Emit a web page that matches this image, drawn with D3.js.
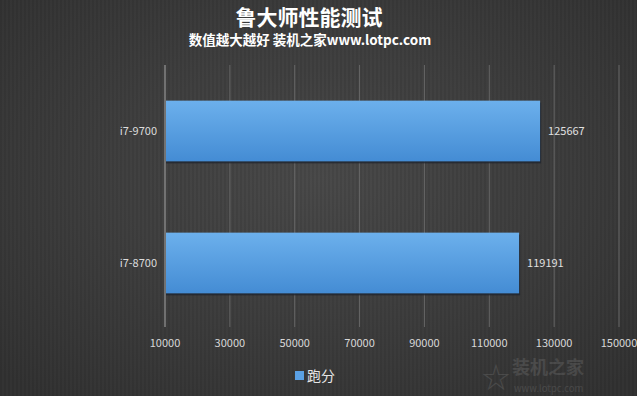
<!DOCTYPE html>
<html>
<head>
<meta charset="utf-8">
<script src="https://cdn.jsdelivr.net/npm/d3@7"></script>
<style>
  html, body { margin: 0; padding: 0; background: #3a3a3a; }
  svg { display: block; font-family: "Noto Sans CJK SC", "Microsoft YaHei", sans-serif; }
</style>
</head>
<body>
<svg id="chart" width="637" height="396"></svg>
<script>
var categories = ['i7-9700', 'i7-8700'];
var scores = [125667, 119191];
var xTicks = [10000, 30000, 50000, 70000, 90000, 110000, 130000, 150000];
var title = '鲁大师性能测试';
var subtitle = '数值越大越好 装机之家www.lotpc.com';
var seriesName = '跑分';

var svg = d3.select('#chart');
var width = 637, height = 396;
var defs = svg.append('defs');

// background, lighter in the middle
var bg = defs.append('radialGradient').attr('id', 'bg')
  .attr('cx', '50%').attr('cy', '45%').attr('r', '70%');
bg.append('stop').attr('offset', '0%').attr('stop-color', '#4a4a4a');
bg.append('stop').attr('offset', '100%').attr('stop-color', '#333333');

var barGrad = defs.append('linearGradient').attr('id', 'barGrad')
  .attr('x1', 0).attr('y1', 0).attr('x2', 0).attr('y2', 1);
barGrad.append('stop').attr('offset', '0%').attr('stop-color', '#6cb0ec');
barGrad.append('stop').attr('offset', '100%').attr('stop-color', '#448cd4');

svg.append('rect').attr('width', width).attr('height', height).attr('fill', 'url(#bg)');

// faint vertical stripes
var stripes = svg.append('g').attr('opacity', 0.06);
for (var sx = 0; sx < width; sx += 4) {
  stripes.append('rect').attr('x', sx).attr('y', 0).attr('width', 2).attr('height', height).attr('fill', '#000');
}

var x = d3.scaleLinear().domain([10000, 150000]).range([165, 619]);
var y = d3.scaleBand().domain(categories).range([65, 329])
  .paddingInner(0.54).paddingOuter(0.27);

// grid lines
svg.append('g').selectAll('line').data(xTicks).enter().append('line')
  .attr('x1', function (d) { return x(d); })
  .attr('x2', function (d) { return x(d); })
  .attr('y1', 65).attr('y2', 327)
  .attr('stroke', function (d, i) { return i == 0 ? '#a8a8a8' : '#666666'; })
  .attr('stroke-width', 1);

// tick labels
svg.append('g').selectAll('text').data(xTicks).enter().append('text')
  .attr('x', function (d) { return x(d); })
  .attr('y', 347)
  .attr('text-anchor', 'middle')
  .style('font-size', '11px')
  .style('fill', '#d8d8d8')
  .text(function (d) { return d; });

// bars with a dark shadow below
var bars = svg.append('g');
bars.selectAll('rect.shadow').data(scores).enter().append('rect')
  .attr('class', 'shadow')
  .attr('x', x(10000) + 1)
  .attr('y', function (d, i) { return y(categories[i]) + 2; })
  .attr('width', function (d) { return x(d) - x(10000); })
  .attr('height', y.bandwidth())
  .attr('fill', '#1f2630').attr('opacity', 0.8);
bars.selectAll('rect.bar').data(scores).enter().append('rect')
  .attr('class', 'bar')
  .attr('x', x(10000) + 1)
  .attr('y', function (d, i) { return y(categories[i]); })
  .attr('width', function (d) { return x(d) - x(10000) - 1; })
  .attr('height', y.bandwidth())
  .attr('fill', 'url(#barGrad)');

// value labels
svg.append('g').selectAll('text').data(scores).enter().append('text')
  .attr('x', function (d) { return x(d) + 8; })
  .attr('y', function (d, i) { return y(categories[i]) + y.bandwidth() / 2 + 4; })
  .style('font-size', '11px')
  .style('fill', '#e0e0e0')
  .text(function (d) { return d; });

// category labels
svg.append('g').selectAll('text').data(categories).enter().append('text')
  .attr('x', 157)
  .attr('y', function (d) { return y(d) + y.bandwidth() / 2 + 4; })
  .attr('text-anchor', 'end')
  .style('font-size', '11px')
  .style('fill', '#dcdcdc')
  .text(function (d) { return d; });

// titles
svg.append('text')
  .attr('x', 309).attr('y', 25)
  .attr('text-anchor', 'middle')
  .style('font-size', '21px').style('font-weight', 'bold')
  .style('fill', '#ffffff')
  .text(title);
svg.append('text')
  .attr('x', 310).attr('y', 45)
  .attr('text-anchor', 'middle')
  .style('font-size', '13.5px').style('font-weight', 'bold')
  .style('fill', '#ffffff')
  .text(subtitle);

// legend
svg.append('rect').attr('x', 295).attr('y', 371).attr('width', 9).attr('height', 9).attr('fill', '#5aa0e4');
svg.append('text').attr('x', 307).attr('y', 381)
  .style('font-size', '14px').style('fill', '#e6e6e6')
  .text(seriesName);

// faint watermark
var wm = svg.append('g').attr('opacity', 0.1);
wm.append('text').attr('x', 512).attr('y', 374)
  .style('font-size', '18px').style('font-weight', 'bold').style('fill', '#ffffff')
  .text('装机之家');
wm.append('text').attr('x', 514).attr('y', 392)
  .style('font-size', '9.5px').style('fill', '#ffffff')
  .text('www.lotpc.com');
wm.append('text').attr('x', 482).attr('y', 388)
  .style('font-size', '28px').style('fill', '#ffffff')
  .text('☆');
</script>
</body>
</html>
